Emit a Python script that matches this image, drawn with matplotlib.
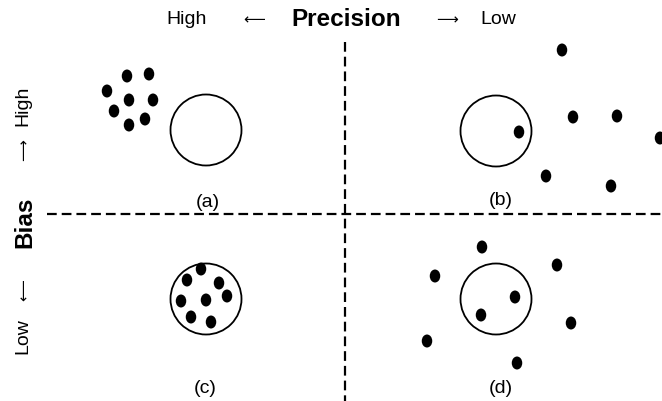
import matplotlib
matplotlib.use("Agg")
import matplotlib.pyplot as plt
from matplotlib.patches import Ellipse, Circle

plt.rcParams['font.family'] = ['Liberation Sans', 'DejaVu Sans']
plt.rcParams['lines.scale_dashes'] = False

# Quadrant target centres (pixel-like canvas coordinates, y downwards)
target_x = [206, 496, 206, 496]
target_y = [131, 132, 300, 300]
target_r = 35.5
labels = ['(a)', '(b)', '(c)', '(d)']
label_x = [208, 501, 205, 501]
label_y = [203, 201, 389, 389]

# Shots per quadrant
a_x = [127, 149, 107, 129, 153, 114, 145, 129]
a_y = [77, 75, 92, 101, 101, 112, 120, 126]
b_x = [562, 573, 617, 660, 519, 546, 611]
b_y = [51, 118, 117, 139, 133, 177, 187]
c_x = [201, 187, 219, 227, 181, 206, 191, 211]
c_y = [270, 281, 284, 297, 302, 301, 318, 323]
d_x = [482, 435, 557, 515, 481, 571, 427, 517]
d_y = [248, 277, 266, 298, 316, 324, 342, 364]

fig = plt.figure(figsize=(6.62, 4.02), dpi=100)
ax = fig.add_axes([0, 0, 1, 1])
ax.set_xlim(0, 662)
ax.set_ylim(402, 0)
ax.axis('off')

for cx, cy in zip(target_x, target_y):
    ax.add_patch(Circle((cx, cy), target_r, fill=False, edgecolor='black', linewidth=1.3))

for xs, ys in [(a_x, a_y), (b_x, b_y), (c_x, c_y), (d_x, d_y)]:
    for x, y in zip(xs, ys):
        ax.add_patch(Ellipse((x, y), 10.5, 13, facecolor='black', edgecolor='none'))

for t, x, y in zip(labels, label_x, label_y):
    ax.text(x, y, t, ha='center', va='center', fontsize=14)

# dashed dividers
ax.plot([345, 345], [43, 402], color='black', linewidth=1.6, dashes=(7, 3.6))
ax.plot([47, 662], [215, 215], color='black', linewidth=1.6, dashes=(7, 3.6))

arrow_font = ['DejaVu Sans']

# top axis annotation
ax.text(187, 19, 'High', ha='center', va='center', fontsize=14)
ax.text(254, 20, '\u27f5', ha='center', va='center', fontsize=11, family=arrow_font)
ax.text(346, 19, 'Precision', ha='center', va='center', fontsize=17.5, fontweight='bold')
ax.text(447, 20, '\u27f6', ha='center', va='center', fontsize=11, family=arrow_font)
ax.text(498, 19, 'Low', ha='center', va='center', fontsize=14)

# left axis annotation
ax.text(23, 106, 'High', ha='center', va='center', fontsize=14, rotation=90)
ax.text(24, 150, '\u27f6', ha='center', va='center', fontsize=11, rotation=90, family=arrow_font)
ax.text(25, 222, 'Bias', ha='center', va='center', fontsize=17.5, fontweight='bold', rotation=90)
ax.text(24, 290, '\u27f5', ha='center', va='center', fontsize=11, rotation=90, family=arrow_font)
ax.text(23, 336, 'Low', ha='center', va='center', fontsize=14, rotation=90)

fig.savefig('out.png', dpi=100)
